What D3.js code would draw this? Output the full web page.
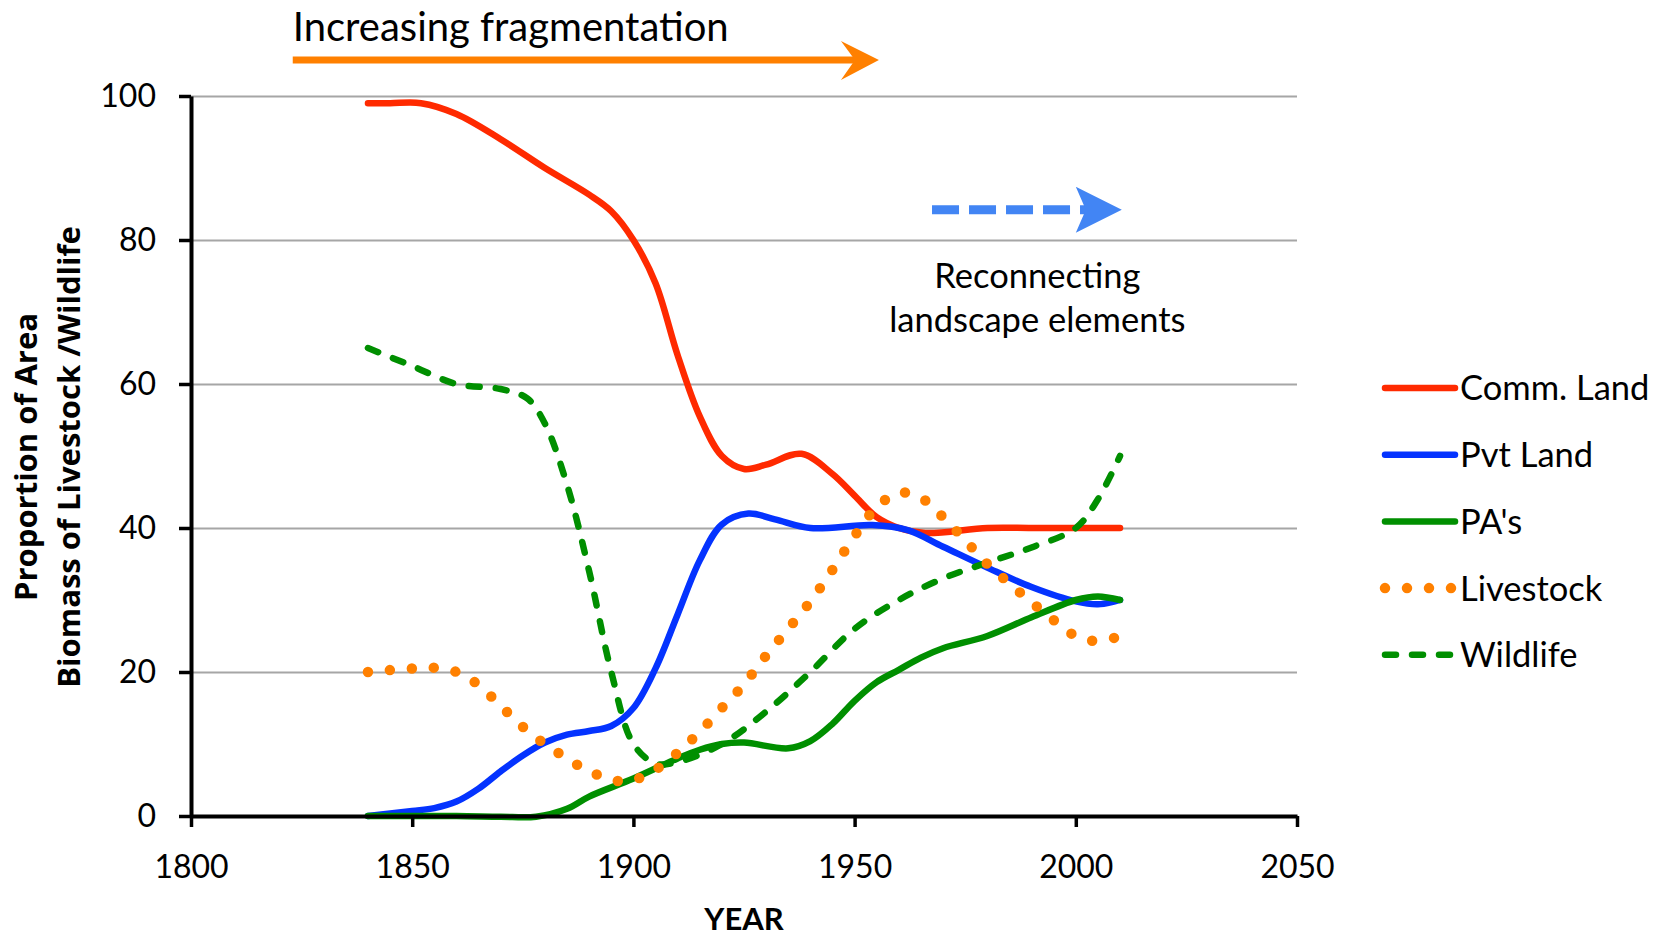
<!DOCTYPE html>
<html>
<head>
<meta charset="utf-8">
<script src="https://cdn.jsdelivr.net/npm/d3@7"></script>
<style>
    body { margin: 0; background: #fff; }
    text { font-family: Lato, "Open Sans", sans-serif; fill: #000; }
</style>
</head>
<body>
<svg id="chart" width="1655" height="936"></svg>
<script>
// DATA
var yearTicks = [1800, 1850, 1900, 1950, 2000, 2050];
var valueTicks = [0, 20, 40, 60, 80, 100];
var seriesNames = ["Comm. Land", "Pvt Land", "PA's", "Livestock", "Wildlife"];

var commLand = [[1840, 99], [1845, 99], [1852, 99], [1860, 97.5], [1870, 94], [1880, 90], [1890, 86.3],
    [1895, 84], [1900, 80], [1905, 74], [1910, 64], [1915, 55.5], [1920, 50], [1925, 48.2], [1930, 48.8],
    [1938, 50.3], [1945, 47.5], [1950, 44.5], [1955, 41.5], [1960, 40], [1966, 39.3], [1980, 40],
    [1990, 40], [2000, 40], [2010, 40]];

var pvtLand = [[1840, 0], [1850, 0.7], [1855, 1.1], [1860, 2], [1865, 3.8], [1870, 6.2], [1875, 8.4],
    [1880, 10.2], [1885, 11.3], [1890, 11.8], [1895, 12.5], [1900, 15], [1905, 20.5], [1910, 28],
    [1915, 35.5], [1920, 40.5], [1926, 42], [1932, 41.2], [1940, 40], [1954, 40.4], [1962, 39.7],
    [1970, 37.4], [1980, 34.5], [1990, 31.8], [2000, 29.8], [2005, 29.4], [2010, 30]];

var protectedAreas = [[1840, 0], [1860, 0], [1870, -0.1], [1878, -0.1], [1885, 1], [1890, 2.7],
    [1900, 5.2], [1910, 8], [1915, 9.2], [1920, 10], [1925, 10.2], [1935, 9.4], [1940, 10.4],
    [1945, 12.8], [1950, 16], [1955, 18.6], [1960, 20.3], [1965, 22], [1970, 23.3], [1980, 25],
    [1990, 27.6], [2000, 30], [2005, 30.5], [2010, 30]];

var livestock = [[1840, 20], [1850, 20.5], [1855, 20.6], [1860, 20], [1865, 18.2], [1870, 15.3],
    [1875, 12.4], [1880, 10], [1885, 8], [1890, 6.2], [1895, 5.1], [1898, 4.8], [1903, 5.7], [1910, 8.8],
    [1915, 11.7], [1920, 15], [1925, 18.3], [1930, 22.3], [1935, 26], [1940, 29.8], [1945, 34.2],
    [1950, 38.9], [1955, 42.9], [1960, 44.9], [1965, 44.2], [1970, 41.5], [1975, 38.3], [1980, 35],
    [1985, 32.3], [1990, 29.7], [1995, 27.2], [2000, 25], [2005, 24.3], [2010, 25]];

var wildlife = [[1840, 65], [1850, 62.5], [1860, 60], [1870, 59.3], [1876, 58], [1880, 54.5],
    [1885, 46], [1890, 34], [1895, 20], [1900, 10], [1905, 7.3], [1910, 7.5], [1920, 10], [1930, 14.5],
    [1940, 20], [1950, 26], [1960, 30], [1970, 33], [1980, 35.2], [1990, 37.3], [2000, 40],
    [2005, 44], [2010, 50]];

// STYLES
var styles = {
    "Comm. Land": { data: commLand, color: "#ff2a00", width: 6.5, dash: null },
    "Pvt Land": { data: pvtLand, color: "#0433ff", width: 6.5, dash: null },
    "PA's": { data: protectedAreas, color: "#008f00", width: 6.5, dash: null },
    "Livestock": { data: livestock, color: "#ff8000", width: 10.5, dash: "0 22" },
    "Wildlife": { data: wildlife, color: "#008f00", width: 6.5, dash: "11 16" }
};
var drawOrder = ["Comm. Land", "Pvt Land", "PA's", "Wildlife", "Livestock"];

var svg = d3.select("#chart");
var x = d3.scaleLinear().domain([1800, 2050]).range([191, 1297]);
var y = d3.scaleLinear().domain([0, 100]).range([816, 96]);

// gridlines
svg.append("g")
    .attr("transform", "translate(191,0)")
    .call(d3.axisLeft(y).tickValues(valueTicks).tickSize(-(1297 - 191)).tickFormat(""))
    .call(function(g) {
        g.select(".domain").remove();
        g.selectAll("line").attr("stroke", "#a6a6a6").attr("stroke-width", 2);
    });

// series
var line = d3.line()
    .x(function(d) { return x(d[0]); })
    .y(function(d) { return y(d[1]); })
    .curve(d3.curveCatmullRom.alpha(0.5));

drawOrder.forEach(function(name) {
    var s = styles[name];
    svg.append("path")
        .datum(s.data)
        .attr("d", line)
        .attr("fill", "none")
        .attr("stroke", s.color)
        .attr("stroke-width", s.width)
        .attr("stroke-linecap", "round")
        .attr("stroke-linejoin", "round")
        .attr("stroke-dasharray", s.dash);
});

// axes
var gx = svg.append("g")
    .attr("transform", "translate(0,816)")
    .call(d3.axisBottom(x).tickValues(yearTicks).tickSize(11).tickSizeOuter(0).tickPadding(28).tickFormat(d3.format("d")));
var gy = svg.append("g")
    .attr("transform", "translate(191,0)")
    .call(d3.axisLeft(y).tickValues(valueTicks).tickSize(12).tickSizeOuter(0).tickPadding(23));

[gx, gy].forEach(function(g) {
    g.select(".domain").attr("stroke", "#000").attr("stroke-width", 4);
    g.selectAll(".tick line").attr("stroke", "#000").attr("stroke-width", 3.5);
    g.selectAll(".tick text").style("font-family", "Lato").style("font-size", "32px").attr("fill", "#000");
});

// axis titles
svg.append("text")
    .attr("x", 744).attr("y", 930)
    .attr("text-anchor", "middle")
    .style("font-size", "31px").style("font-weight", "bold")
    .text("YEAR");

var yTitle = ["Proportion of Area", "Biomass of Livestock /Wildlife"];
svg.selectAll(".y-title")
    .data(yTitle)
    .enter()
    .append("text")
        .attr("class", "y-title")
        .attr("transform", function(d, i) {
            return "translate(" + (37 + i * 43) + ",457) rotate(-90)";
        })
        .attr("text-anchor", "middle")
        .style("font-family", "'Open Sans'")
        .style("font-size", "31px").style("font-weight", "bold")
        .text(function(d) { return d; });

// annotations
var orangeY = y(105);
svg.append("line")
    .attr("x1", x(1823)).attr("x2", x(1952))
    .attr("y1", orangeY).attr("y2", orangeY)
    .attr("stroke", "#ff8000").attr("stroke-width", 7);
svg.append("path")
    .attr("transform", "translate(" + x(1955.5) + "," + orangeY + ")")
    .attr("d", "M0,0 L-38,-19 L-24,0 L-38,20 Z")
    .attr("fill", "#ff8000");
svg.append("text")
    .attr("x", x(1823)).attr("y", y(107.7))
    .style("font-size", "40px")
    .text("Increasing fragmentation");

var blueY = y(84.2);
svg.append("line")
    .attr("x1", x(1967.5)).attr("x2", x(2008))
    .attr("y1", blueY).attr("y2", blueY)
    .attr("stroke", "#4285f4").attr("stroke-width", 9)
    .attr("stroke-dasharray", "27 10");
svg.append("path")
    .attr("transform", "translate(" + x(2010.4) + "," + blueY + ")")
    .attr("d", "M0,0 L-46,-23 L-36,0 L-46,23 Z")
    .attr("fill", "#4285f4");
svg.selectAll(".reconnect")
    .data(["Reconnecting", "landscape elements"])
    .enter()
    .append("text")
        .attr("class", "reconnect")
        .attr("x", x(1991.3))
        .attr("y", function(d, i) { return i === 0 ? y(73.3) : y(67.2); })
        .attr("text-anchor", "middle")
        .style("font-size", "34.5px")
        .text(function(d) { return d; });

// legend
var legend = svg.selectAll(".legend-item")
    .data(seriesNames)
    .enter()
    .append("g")
        .attr("class", "legend-item")
        .attr("transform", function(d, i) {
            return "translate(1385," + (388 + i * 66.7) + ")";
        });

legend.append("line")
    .attr("x1", 0).attr("x2", 70)
    .attr("stroke", function(d) { return styles[d].color; })
    .attr("stroke-width", function(d) { return styles[d].width; })
    .attr("stroke-linecap", "round")
    .attr("stroke-dasharray", function(d) { return styles[d].dash; });

legend.append("text")
    .attr("x", 75).attr("y", 0)
    .attr("dy", "0.36em")
    .style("font-size", "34.5px")
    .text(function(d) { return d; });
</script>
</body>
</html>
